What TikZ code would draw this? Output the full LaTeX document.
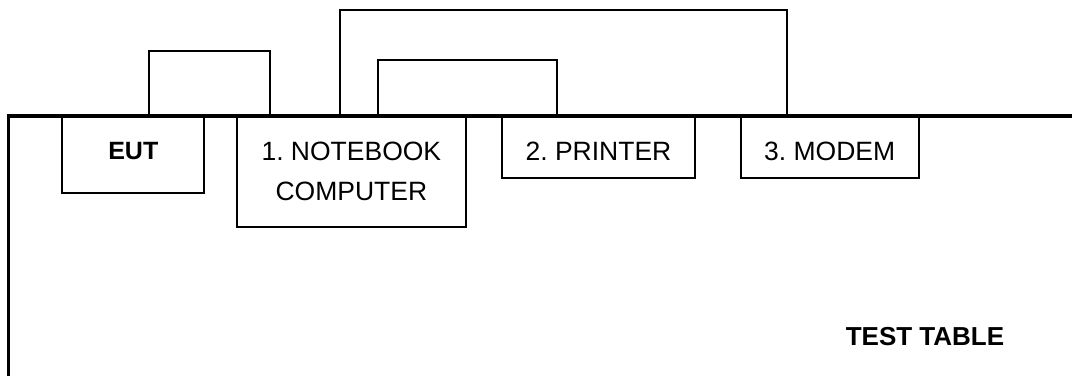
\documentclass[tikz,border=0pt]{standalone}
\usepackage{fontspec}
\setmainfont{Liberation Sans}
\usetikzlibrary{positioning}
\frenchspacing

\begin{document}
\begin{tikzpicture}[
    x=1pt, y=1pt,
    box/.style={rectangle, draw=black, line width=1.8pt, inner sep=0pt, outer sep=0pt, align=center, font=\fontsize{26.5}{40}\selectfont, minimum height=62.3pt},
    cable/.style={line width=1.8pt},
    tableline/.style={line width=3.5pt}
]
    \useasboundingbox (0,0) rectangle (1072,376);

    % test table edge
    \coordinate (tcorner) at (8.7,260);
    \coordinate (tbottom) at (8.7,0);
    \coordinate (tright) at (1072,260);
    \draw [tableline] (tbottom) -- (tcorner) -- (tright);

    \node (eut) [box, anchor=north, minimum width=142pt, minimum height=77.3pt, text depth=6.8pt, font=\bfseries\fontsize{25}{40}\selectfont] at (133.3,260) {EUT};
    \node (nb) [box, right=32.4pt of eut.north east, anchor=north west, minimum width=229.3pt, minimum height=110.7pt] {1. NOTEBOOK\\COMPUTER};
    \node (prn) [box, right=36.3pt of nb.north east, anchor=north west, minimum width=192.4pt, text height=26pt] {2. PRINTER};
    \node (mdm) [box, right=46pt of prn.north east, anchor=north west, minimum width=178pt, text height=26pt] {3. MODEM};

    \node (tbl) [font=\bfseries\fontsize{26}{40}\selectfont] at (925,39) {TEST TABLE};

    % cables
    \draw [cable] ([xshift=15.4pt]eut.north) -- ++(0,65.3) -| ([xshift=-81pt]nb.north);
    \draw [cable] ([xshift=-11pt]nb.north) -- ++(0,105.7) -| ([xshift=-43pt]mdm.north);
    \draw [cable] ([xshift=27pt]nb.north) -- ++(0,55.7) -| ([xshift=-41.8pt]prn.north);
\end{tikzpicture}
\end{document}
